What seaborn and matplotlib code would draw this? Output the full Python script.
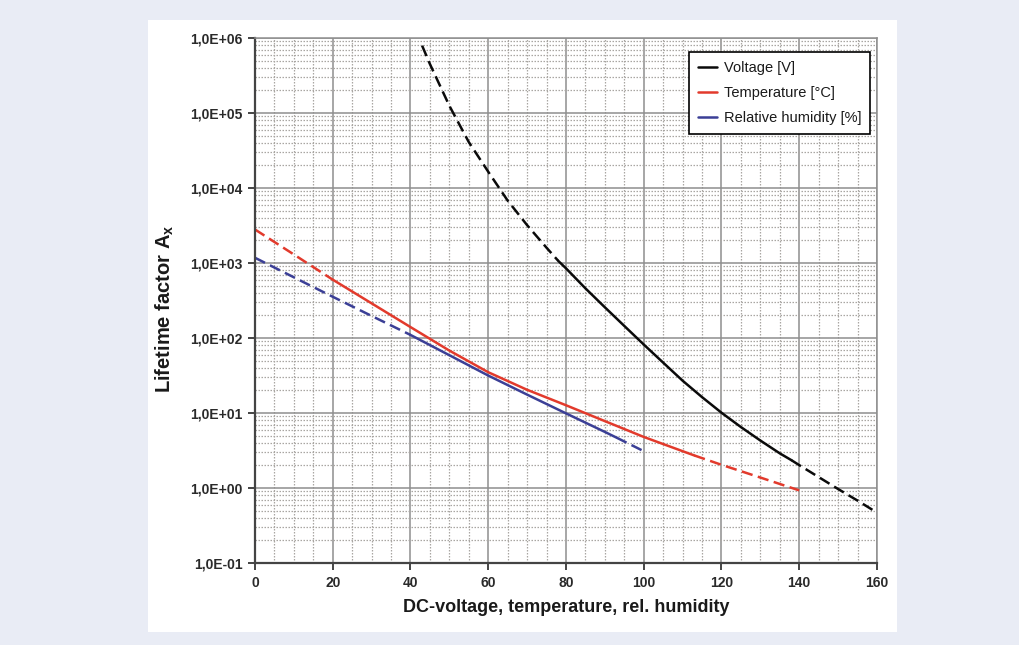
import numpy as np
import pandas as pd
import matplotlib
matplotlib.use('Agg')
import matplotlib.pyplot as plt
import seaborn as sns
from matplotlib.lines import Line2D
from matplotlib.patches import Rectangle
from matplotlib.ticker import MultipleLocator, LogLocator, FuncFormatter, NullFormatter

# Voltage [V]
volt_x = [43, 45, 50, 55, 60, 65, 70, 75, 78, 80, 85, 90, 95, 100, 105,
          110, 115, 120, 125, 130, 135, 138, 140, 145, 150, 155, 160]
volt_y = [7.9e5, 4.5e5, 1.25e5, 4.1e4, 1.65e4, 6.8e3, 3.2e3, 1.6e3, 1.07e3,
          850, 460, 257, 145, 82, 47, 27, 16.3, 10.1, 6.5, 4.3, 2.9,
          2.35, 2.02, 1.4, 0.97, 0.68, 0.47]
volt_solid = (78, 138)

# Temperature [°C]
temp_x = [0, 10, 20, 30, 40, 50, 60, 70, 80, 90, 100, 110, 113, 120, 130, 140]
temp_y = [2800, 1300, 600, 290, 140, 68, 35, 20.4, 12.7, 7.8, 4.8, 3.1, 2.72,
          2.04, 1.38, 0.93]
temp_solid = (20, 113)

# Relative humidity [%]
hum_x = [0, 10, 20, 30, 40, 50, 60, 70, 80, 90, 93, 100]
hum_y = [1175, 645, 355, 197, 110, 59, 31.6, 17.6, 9.9, 5.6, 4.7, 3.1]
hum_solid = (40, 93)

series = [
    ('Voltage [V]', volt_x, volt_y, volt_solid),
    ('Temperature [°C]', temp_x, temp_y, temp_solid),
    ('Relative humidity [%]', hum_x, hum_y, hum_solid),
]
colors = {'Voltage [V]': '#0a0a0a',
          'Temperature [°C]': '#e23a2c',
          'Relative humidity [%]': '#3b3f96'}

# long format: split each curve into dashed / solid / dashed pieces
rows = []
unit = 0
for name, xs, ys, (lo, hi) in series:
    xs = np.asarray(xs, float)
    ys = np.asarray(ys, float)
    pieces = [(xs <= lo, 'dashed'), ((xs >= lo) & (xs <= hi), 'solid'),
              (xs >= hi, 'dashed')]
    for mask, part in pieces:
        if mask.sum() < 2:
            continue
        for x, y in zip(xs[mask], ys[mask]):
            rows.append({'x': x, 'y': y, 'series': name, 'part': part,
                         'unit': unit})
        unit += 1
df = pd.DataFrame(rows)

sns.set_style('ticks')
plt.rcParams['font.family'] = ['Liberation Sans', 'DejaVu Sans']

fig = plt.figure(figsize=(10.19, 6.45), dpi=100, facecolor='#e9ecf5')
fig.patches.append(Rectangle((0.1452, 0.0202), 0.735, 0.9488,
                             transform=fig.transFigure, facecolor='white',
                             edgecolor='none', zorder=-10))
ax = fig.add_axes([0.2502, 0.1271, 0.6104, 0.8140])
ax.set_facecolor('white')

sns.lineplot(data=df, x='x', y='y', hue='series', style='part',
             units='unit', estimator=None, sort=False,
             palette=colors, dashes={'solid': '', 'dashed': (4.5, 2.2)},
             linewidth=1.8, legend=False, ax=ax)

ax.set_yscale('log')
ax.set_xlim(0, 160)
ax.set_ylim(0.1, 1e6)

ax.xaxis.set_major_locator(MultipleLocator(20))
ax.xaxis.set_minor_locator(MultipleLocator(5))
ax.yaxis.set_major_locator(LogLocator(base=10, numticks=20))
ax.yaxis.set_minor_locator(LogLocator(base=10, subs=np.arange(2, 10), numticks=20))
ax.yaxis.set_major_formatter(FuncFormatter(
    lambda v, p: '1,0E{:+03d}'.format(int(round(np.log10(v))))))
ax.yaxis.set_minor_formatter(NullFormatter())

ax.grid(which='major', color='#8e8e8e', linewidth=1.1, linestyle='-')
ax.grid(which='minor', color='#a9a6a2', linewidth=0.9, linestyle=(0, (1.2, 1.2)))
ax.set_axisbelow(True)

ax.tick_params(which='major', direction='out', length=5, width=1.4,
               color='#444444', labelsize=10, labelcolor='#2a2a2a', pad=4)
ax.tick_params(which='minor', length=0)
for lab in ax.get_xticklabels() + ax.get_yticklabels():
    lab.set_fontweight('bold')

for side in ['left', 'bottom']:
    ax.spines[side].set_color('#444444')
    ax.spines[side].set_linewidth(1.6)
for side in ['top', 'right']:
    ax.spines[side].set_color('#8e8e8e')
    ax.spines[side].set_linewidth(1.1)

ax.set_xlabel('DC-voltage, temperature, rel. humidity', fontsize=13,
              fontweight='bold', color='#1a1a1a', labelpad=7)
ax.set_ylabel('Lifetime factor A$_\\mathregular{x}$', fontsize=14.5,
              fontweight='bold', color='#1a1a1a')
ax.yaxis.set_label_coords(-0.127, 0.485)

handles = [Line2D([], [], color=colors[n], linewidth=1.8) for n, *_ in series]
leg = ax.legend(handles, [n for n, *_ in series], loc='upper right',
                bbox_to_anchor=(0.989, 0.973), borderaxespad=0,
                fontsize=10.5, handlelength=1.3, handletextpad=0.5,
                labelspacing=0.75, borderpad=0.6, fancybox=False,
                framealpha=1, edgecolor='black')
leg.get_frame().set_linewidth(1.2)
for t in leg.get_texts():
    t.set_color('#1a1a1a')

fig.savefig('out.png', dpi=100, facecolor=fig.get_facecolor())
